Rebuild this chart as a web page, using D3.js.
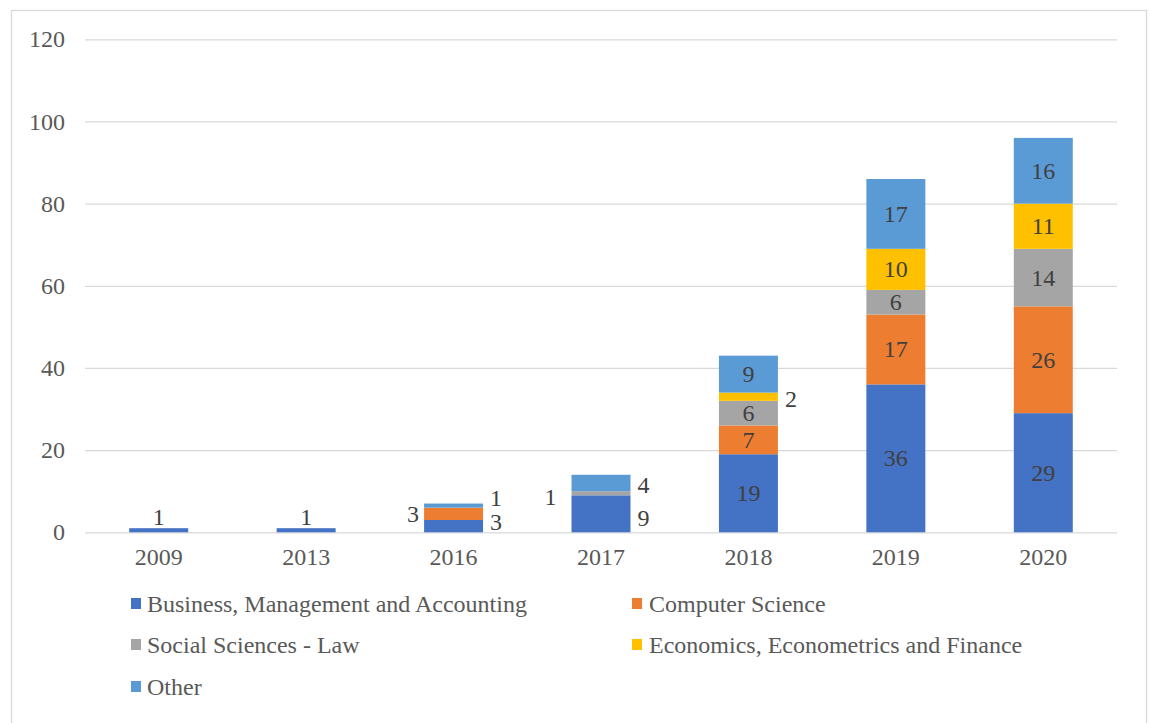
<!DOCTYPE html>
<html>
<head>
<meta charset="utf-8">
<script src="https://cdn.jsdelivr.net/npm/d3@7"></script>
<style>
  html, body { margin: 0; padding: 0; background: #fff; }
  svg { display: block; }
  text { font-family: "Liberation Serif", "Times New Roman", serif; }
</style>
</head>
<body>
<svg id="chart" width="1150" height="723"></svg>
<script>
// Publications per year, stacked by subject area
const years = ["2009", "2013", "2016", "2017", "2018", "2019", "2020"];
const seriesNames = [
  "Business, Management and Accounting",
  "Computer Science",
  "Social Sciences - Law",
  "Economics, Econometrics and Finance",
  "Other"
];
const business  = [1, 1, 3, 9, 19, 36, 29];
const computer  = [0, 0, 3, 0, 7, 17, 26];
const social    = [0, 0, 0, 1, 6, 6, 14];
const economics = [0, 0, 0, 0, 2, 10, 11];
const other     = [0, 0, 1, 4, 9, 17, 16];
const yTicks = [0, 20, 40, 60, 80, 100, 120];

const seriesValues = [business, computer, social, economics, other];
const colors = ["#4472C4", "#ED7D31", "#A5A5A5", "#FFC000", "#5B9BD5"];
const fontSize = "24px";

// Labels of thin segments sit beside or above the bar instead of inside it
const labelPlacement = {
  "2009|0": { side: "above" },
  "2013|0": { side: "above" },
  "2016|0": { side: "right", dy: -4 },
  "2016|1": { side: "left", dy: 0 },
  "2016|4": { side: "right", dy: -8 },
  "2017|0": { side: "right", dy: 4 },
  "2017|2": { side: "left", dy: 4, dx: -10 },
  "2017|4": { side: "right", dy: 2 },
  "2018|3": { side: "right", dy: 2 }
};

const rows = years.map((y, i) => {
  const r = { year: y };
  seriesNames.forEach((s, k) => { r[s] = seriesValues[k][i]; });
  return r;
});

const svg = d3.select("#chart");
const plot = { left: 85, right: 1117, top: 39.3, bottom: 532.3 };

// Outer chart frame
svg.append("rect")
  .attr("x", 11.5).attr("y", 10.5)
  .attr("width", 1135).attr("height", 730)
  .attr("fill", "#fff").attr("stroke", "#D9D9D9").attr("stroke-width", 1.3);

const x = d3.scaleBand()
  .domain(years)
  .range([plot.left, plot.right])
  .paddingInner(0.6)
  .paddingOuter(0.3);

const y = d3.scaleLinear()
  .domain([0, 120])
  .range([plot.bottom, plot.top]);

// Gridlines and value axis
const yAxis = d3.axisLeft(y)
  .tickValues(yTicks)
  .tickSize(-(plot.right - plot.left))
  .tickPadding(20);
const gy = svg.append("g")
  .attr("transform", `translate(${plot.left},0)`)
  .call(yAxis);
gy.select(".domain").remove();
gy.selectAll(".tick line").attr("stroke", "#D9D9D9").attr("stroke-width", 1.3);
gy.selectAll(".tick text")
  .attr("fill", "#595959")
  .attr("font-size", fontSize);

// Category axis
const xAxis = d3.axisBottom(x).tickSize(0).tickPadding(16);
const gx = svg.append("g")
  .attr("transform", `translate(0,${plot.bottom})`)
  .call(xAxis);
gx.select(".domain").remove();
gx.selectAll(".tick text")
  .attr("fill", "#595959")
  .attr("font-size", fontSize);

// Stacked bars
const stack = d3.stack().keys(seriesNames);
const stacked = stack(rows);

const layers = svg.append("g").selectAll("g")
  .data(stacked)
  .join("g")
  .attr("fill", (d, i) => colors[i]);

layers.selectAll("rect")
  .data(d => d.filter(p => p[1] - p[0] > 0))
  .join("rect")
  .attr("x", d => x(d.data.year))
  .attr("width", x.bandwidth())
  .attr("y", d => y(d[1]))
  .attr("height", d => y(d[0]) - y(d[1]));

// Value labels
const labels = svg.append("g");
stacked.forEach((layer, k) => {
  layer.forEach(p => {
    const v = p[1] - p[0];
    if (v <= 0) return;
    const yr = p.data.year;
    const place = labelPlacement[yr + "|" + k];
    const cx = x(yr) + x.bandwidth() / 2;
    const cy = (y(p[0]) + y(p[1])) / 2;
    let tx = cx, ty = cy;
    if (place) {
      if (place.side === "above") {
        ty = y(p[1]) - 11;
      } else if (place.side === "right") {
        tx = x(yr) + x.bandwidth() + 13 + (place.dx || 0);
        ty = cy + (place.dy || 0);
      } else if (place.side === "left") {
        tx = x(yr) - 11 + (place.dx || 0);
        ty = cy + (place.dy || 0);
      }
    }
    labels.append("text")
      .attr("x", tx).attr("y", ty)
      .attr("text-anchor", "middle")
      .attr("dominant-baseline", "central")
      .attr("font-size", fontSize)
      .attr("fill", "#404040")
      .text(v);
  });
});

// Legend
const legendPos = [
  { sx: 131, tx: 147, cy: 604 },
  { sx: 632, tx: 649, cy: 604 },
  { sx: 131, tx: 147, cy: 645 },
  { sx: 632, tx: 649, cy: 645 },
  { sx: 131, tx: 147, cy: 687 }
];
const legend = svg.append("g");
seriesNames.forEach((name, i) => {
  const p = legendPos[i];
  legend.append("rect")
    .attr("x", p.sx).attr("y", p.cy - 6)
    .attr("width", 10).attr("height", 11)
    .attr("fill", colors[i]);
  legend.append("text")
    .attr("x", p.tx).attr("y", p.cy)
    .attr("dominant-baseline", "central")
    .attr("font-size", fontSize)
    .attr("fill", "#595959")
    .text(name);
});
</script>
</body>
</html>
